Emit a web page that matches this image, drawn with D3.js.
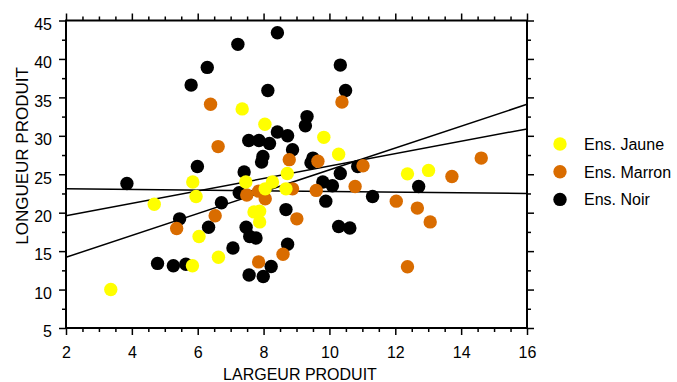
<!DOCTYPE html>
<html>
<head>
<meta charset="utf-8">
<script src="https://cdn.jsdelivr.net/npm/d3@7"></script>
<style>
  body { margin: 0; background: #fff; }
  svg { display: block; font-family: "Liberation Sans", Arial, sans-serif; }
</style>
</head>
<body>
<svg id="chart" width="677" height="382"></svg>
<script>
// ---- Data ----
const seriesNames = ["Ens. Jaune", "Ens. Marron", "Ens. Noir"];
const seriesColors = ["#FFFF00", "#D96C00", "#000000"];

const jauneX = [7.35, 8.04, 9.83, 10.28, 8.72, 12.37, 13.01, 5.85, 7.46, 8.27, 8.05, 8.68, 5.95, 4.68, 7.71, 7.88, 7.88, 6.04, 6.63, 5.84, 3.36];
const jauneY = [33.5, 31.5, 29.8, 27.6, 25.1, 25.05, 25.5, 24.0, 24.0, 24.0, 23.1, 23.1, 22.1, 21.1, 20.1, 20.2, 18.8, 16.9, 14.2, 13.1, 10.0];

const marronX = [6.39, 10.38, 6.62, 8.78, 9.65, 11.02, 14.61, 13.72, 8.88, 9.60, 10.78, 7.85, 7.49, 8.05, 12.03, 12.67, 13.06, 9.01, 6.53, 5.36, 8.59, 7.85, 12.37];
const marronY = [34.1, 34.4, 28.6, 26.9, 26.7, 26.1, 27.1, 24.7, 23.1, 22.9, 23.4, 22.8, 22.3, 21.8, 21.5, 20.6, 18.8, 19.2, 19.6, 17.95, 14.6, 13.6, 12.97];

const noirX = [8.42, 7.22, 6.29, 5.80, 8.13, 10.33, 10.49, 9.32, 9.27, 8.42, 8.73, 7.55, 7.86, 8.18, 8.88, 7.98, 7.94, 9.50, 9.44, 10.86, 5.99, 7.41, 10.33, 3.85, 9.80, 10.09, 12.71, 7.26, 11.31, 9.89, 6.72, 8.68, 5.45, 6.33, 7.47, 10.28, 10.62, 7.58, 7.77, 8.73, 7.07, 4.78, 5.26, 5.64, 8.23, 7.56, 7.99];
const noirY = [43.4, 41.9, 38.9, 36.6, 35.9, 39.2, 35.9, 32.5, 31.3, 30.5, 30.0, 29.4, 29.4, 29.0, 28.2, 27.3, 26.6, 27.1, 26.5, 26.0, 26.0, 25.3, 25.1, 23.8, 24.0, 23.5, 23.4, 22.6, 22.1, 21.5, 21.3, 20.4, 19.2, 18.1, 18.1, 18.2, 18.0, 16.9, 16.7, 15.9, 15.4, 13.4, 13.1, 13.3, 13.0, 11.9, 11.7];

// trend lines: value at x = 2 and at x = 16
const trendX = [2, 16];
const trendA = [14.2, 34.1];
const trendB = [19.6, 30.9];
const trendC = [23.1, 22.5];

const xTicks = [2, 4, 6, 8, 10, 12, 14, 16];
const yTicks = [5, 10, 15, 20, 25, 30, 35, 40, 45];
const xTitle = "LARGEUR PRODUIT";
const yTitle = "LONGUEUR PRODUIT";

// ---- Layout ----
const svg = d3.select("#chart");
const L = 66, R = 527, T = 20.5, B = 328;
const x = d3.scaleLinear().domain([2, 16]).range([L, R]);
const y = d3.scaleLinear().domain([5, 45]).range([B, T]);

const xMinor = d3.range(2, 16.01, 0.5).filter(v => Math.abs(v % 2) > 1e-9);
const yMinor = d3.range(5, 45.01, 2.5).filter(v => Math.abs(v % 5) > 1e-9);

// trend lines (under points)
const line = d3.line().x(d => x(d[0])).y(d => y(d[1]));
[trendA, trendB, trendC].forEach(t => {
  svg.append("path")
    .attr("d", line(trendX.map((v, i) => [v, t[i]])))
    .attr("fill", "none").attr("stroke", "#000").attr("stroke-width", 1.5);
});

// points: black, then orange, then yellow on top
const series = [
  { xs: noirX, ys: noirY, color: seriesColors[2] },
  { xs: marronX, ys: marronY, color: seriesColors[1] },
  { xs: jauneX, ys: jauneY, color: seriesColors[0] }
];
series.forEach(s => {
  svg.append("g").selectAll("circle")
    .data(s.xs.map((v, i) => [v, s.ys[i]]))
    .join("circle")
    .attr("cx", d => x(d[0])).attr("cy", d => y(d[1]))
    .attr("r", 6.7).attr("fill", s.color);
});

// axes
function styleAxis(g) {
  g.select(".domain").remove();
  g.selectAll("line").attr("stroke", "#000").attr("stroke-width", 1.5);
  g.selectAll("text").attr("fill", "#000").style("font-size", "16px")
   .style("font-family", "'Liberation Sans', Arial, sans-serif");
}
// bottom
svg.append("g").attr("transform", `translate(0,${B})`)
  .call(d3.axisBottom(x).tickValues(xTicks).tickSize(7).tickPadding(12).tickFormat(d3.format("d")))
  .call(styleAxis);
svg.append("g").attr("transform", `translate(0,${B})`)
  .call(d3.axisBottom(x).tickValues(xMinor).tickSize(4).tickFormat(""))
  .call(styleAxis);
// top
svg.append("g").attr("transform", `translate(0,${T})`)
  .call(d3.axisTop(x).tickValues(xTicks).tickSize(7).tickFormat(""))
  .call(styleAxis);
svg.append("g").attr("transform", `translate(0,${T})`)
  .call(d3.axisTop(x).tickValues(xMinor).tickSize(4).tickFormat(""))
  .call(styleAxis);
// left
const gl = svg.append("g").attr("transform", `translate(${L},0)`)
  .call(d3.axisLeft(y).tickValues(yTicks).tickSize(7).tickPadding(7).tickFormat(d3.format("d")))
  .call(styleAxis);
gl.selectAll("text").attr("dy", "0.55em");
svg.append("g").attr("transform", `translate(${L},0)`)
  .call(d3.axisLeft(y).tickValues(yMinor).tickSize(4).tickFormat(""))
  .call(styleAxis);
// right
svg.append("g").attr("transform", `translate(${R},0)`)
  .call(d3.axisRight(y).tickValues(yTicks).tickSize(7).tickFormat(""))
  .call(styleAxis);
svg.append("g").attr("transform", `translate(${R},0)`)
  .call(d3.axisRight(y).tickValues(yMinor).tickSize(4).tickFormat(""))
  .call(styleAxis);

// frame
svg.append("rect").attr("x", L).attr("y", T).attr("width", R - L).attr("height", B - T)
  .attr("fill", "none").attr("stroke", "#000").attr("stroke-width", 2);

// titles
svg.append("text").attr("x", 300).attr("y", 380).attr("text-anchor", "middle")
  .style("font-size", "16px").text(xTitle);
svg.append("text").attr("transform", "translate(28,156) rotate(-90)").attr("text-anchor", "middle")
  .style("font-size", "17px").text(yTitle);

// legend
const lg = svg.append("g");
seriesNames.forEach((n, i) => {
  const cy = 144 + i * 27.7;
  lg.append("circle").attr("cx", 560).attr("cy", cy).attr("r", 6.7).attr("fill", seriesColors[i]);
  lg.append("text").attr("x", 584).attr("y", cy + 6).style("font-size", "16px").text(n);
});
</script>
</body>
</html>
